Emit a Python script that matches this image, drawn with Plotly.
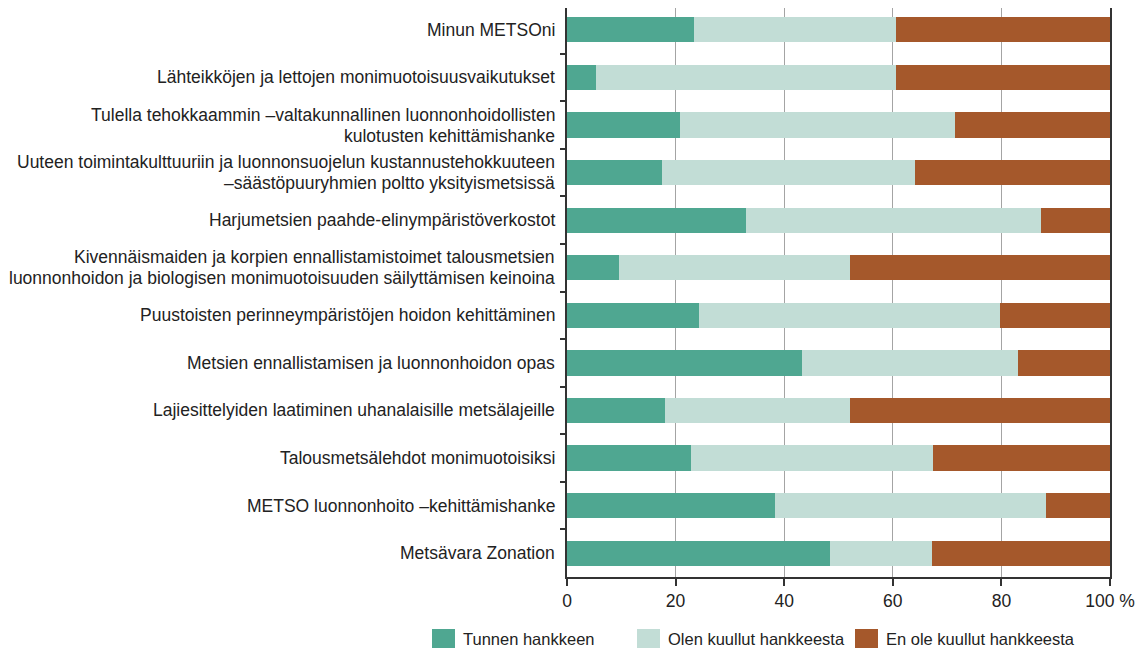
import plotly.graph_objects as go

categories = [
    "Minun METSOni",
    "Lähteikköjen ja lettojen monimuotoisuusvaikutukset",
    "Tulella tehokkaammin –valtakunnallinen luonnonhoidollisten<br>kulotusten kehittämishanke",
    "Uuteen toimintakulttuuriin ja luonnonsuojelun kustannustehokkuuteen<br>–säästöpuuryhmien poltto yksityismetsissä",
    "Harjumetsien paahde-elinympäristöverkostot",
    "Kivennäismaiden ja korpien ennallistamistoimet talousmetsien<br>luonnonhoidon ja biologisen monimuotoisuuden säilyttämisen keinoina",
    "Puustoisten perinneympäristöjen hoidon kehittäminen",
    "Metsien ennallistamisen ja luonnonhoidon opas",
    "Lajiesittelyiden laatiminen uhanalaisille metsälajeille",
    "Talousmetsälehdot monimuotoisiksi",
    "METSO luonnonhoito –kehittämishanke",
    "Metsävara Zonation",
]
tunnen = [23.3, 5.3, 20.9, 17.5, 32.9, 9.5, 24.4, 43.2, 18.0, 22.8, 38.3, 48.4]
olen = [37.3, 55.3, 50.6, 46.6, 54.3, 42.6, 55.4, 39.9, 34.1, 44.6, 50.0, 18.9]
en_ole = [round(100 - a - b, 1) for a, b in zip(tunnen, olen)]

series_names = ["Tunnen hankkeen", "Olen kuullut hankkeesta", "En ole kuullut hankkeesta"]
series_colors = ["#4fa791", "#c2ddd6", "#a5582b"]
series_values = [tunnen, olen, en_ole]
x_ticks = [0, 20, 40, 60, 80, 100]
x_ticklabels = ["0", "20", "40", "60", "80", "100 %"]

FONT = "Liberation Sans, Arial, sans-serif"
FS = 17.5
LFS = 16.5
TXT = "#222222"

# page is rendered with an 8px body margin; figure is sized to fit the window
W, H = 1140, 645
PL, PR, PT, PB = 559, 1102, 0, 569  # plot area in figure pixels


def px_x(p):  # page x -> paper x
    return (p - 8 - PL) / (PR - PL)


def px_y(p):  # page y -> paper y
    return (PB - (p - 8)) / (PB - PT)


fig = go.Figure()
for name, color, vals in zip(series_names, series_colors, series_values):
    fig.add_trace(go.Bar(
        y=categories, x=vals, name=name, orientation="h",
        marker=dict(color=color, line=dict(width=0)),
        showlegend=False,
    ))

annotations = []
for cat in categories:
    lines = cat.split("<br>")
    n = len(lines)
    for i, line in enumerate(lines):
        shift = (n - 1) * 10.5 - i * 21
        annotations.append(dict(
            x=0, xref="paper", y=cat, yref="y", text=line, showarrow=False,
            xanchor="right", yanchor="middle", xshift=-10, yshift=shift,
            font=dict(family=FONT, size=FS, color=TXT),
        ))

# legend drawn as swatches + text below the axis
shapes = []
leg_pos = [(432, 455, 461), (637, 660, 666), (855, 878, 884)]
for (x0, x1, tx), color, name in zip(leg_pos, series_colors, series_names):
    shapes.append(dict(type="rect", xref="paper", yref="paper",
                       x0=px_x(x0), x1=px_x(x1), y0=px_y(648), y1=px_y(629),
                       fillcolor=color, line=dict(width=0)))
    annotations.append(dict(x=px_x(tx), xref="paper", y=px_y(638.5), yref="paper",
                            text=name, showarrow=False, xanchor="left", yanchor="middle",
                            font=dict(family=FONT, size=LFS, color=TXT)))

fig.update_layout(
    barmode="stack",
    bargap=0.47,
    width=W, height=H,
    margin=dict(l=PL, r=W - PR, t=PT, b=H - PB, pad=0),
    plot_bgcolor="white", paper_bgcolor="white",
    font=dict(family=FONT, size=FS, color=TXT),
    annotations=annotations,
    shapes=shapes,
    xaxis=dict(
        range=[0, 100], tickvals=x_ticks, ticktext=x_ticklabels,
        showgrid=True, gridcolor="#a4a4a4", gridwidth=1,
        showline=True, linecolor="#333333", linewidth=1.5,
        ticks="outside", ticklen=7, tickcolor="#333333", tickwidth=1.5,
        zeroline=False, tickfont=dict(family=FONT, size=FS, color=TXT),
        fixedrange=True,
    ),
    yaxis=dict(
        type="category", range=[11.5, -0.46], showticklabels=False,
        showline=True, linecolor="#333333", linewidth=1.5, mirror=True,
        ticks="outside", ticklen=5, tickcolor="#333333", tickwidth=1.5,
        tickson="boundaries", showgrid=False,
        fixedrange=True,
    ),
)

fig.write_html("out.html")
